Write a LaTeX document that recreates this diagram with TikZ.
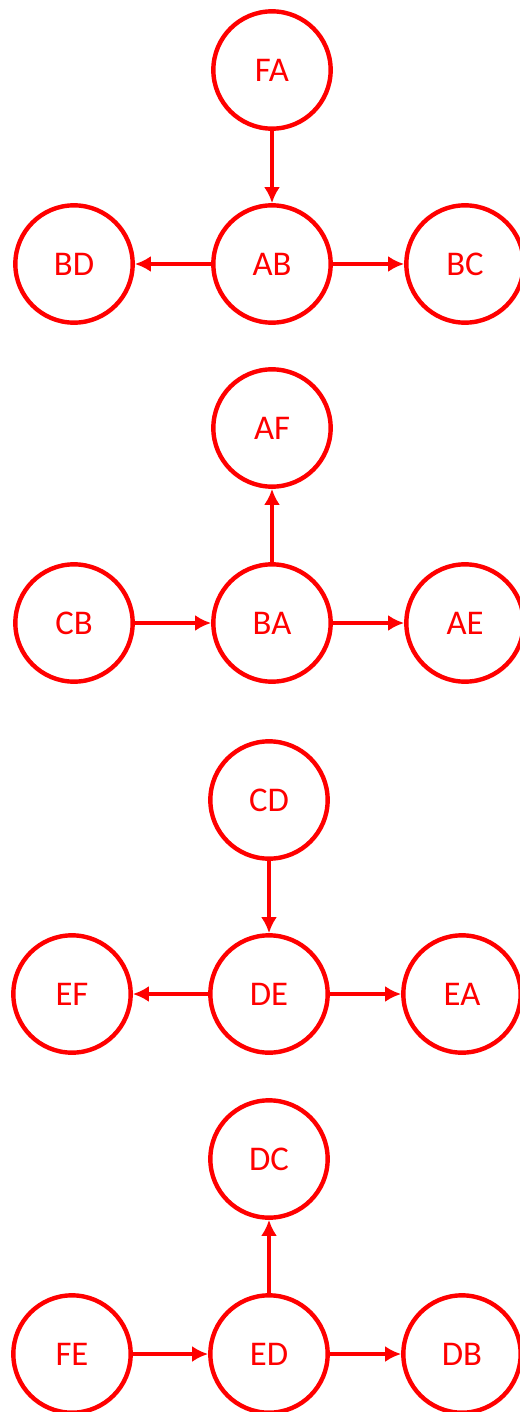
\documentclass[tikz,border=0pt]{standalone}
\usepackage{fontspec}
\setmainfont{Carlito}
\usetikzlibrary{arrows.meta}
\definecolor{pairred}{RGB}{255,0,0}
\begin{document}
\begin{tikzpicture}[x=0.75pt, y=-0.75pt, >={Latex[length=12pt, width=12pt]}]
    \useasboundingbox (0, 0) rectangle (520, 1412);
    \clip (0, 0) rectangle (520, 1412);

    \tikzstyle{pair} = [circle, draw = pairred, line width = 3.3pt, text = pairred, inner sep = 0pt, minimum size = 88pt, font = \fontsize{26}{30}\selectfont]
    \tikzstyle{link} = [->, draw = pairred, line width = 3.3pt]

    % first group
    \node[pair] (fa) at (272, 70) {FA};
    \node[pair] (ab) at (272, 264) {AB};
    \node[pair] (bd) at (74, 264) {BD};
    \node[pair] (bc) at (465, 264) {BC};
    \draw[link] (fa) -- (ab);
    \draw[link] (ab) -- (bd);
    \draw[link] (ab) -- (bc);

    % second group
    \node[pair] (af) at (272, 428) {AF};
    \node[pair] (cb) at (74, 623) {CB};
    \node[pair] (ba) at (272, 623) {BA};
    \node[pair] (ae) at (465, 623) {AE};
    \draw[link] (ba) -- (af);
    \draw[link] (cb) -- (ba);
    \draw[link] (ba) -- (ae);

    % third group
    \node[pair] (cd) at (269, 800) {CD};
    \node[pair] (ef) at (72, 994) {EF};
    \node[pair] (de) at (269, 994) {DE};
    \node[pair] (ea) at (462, 994) {EA};
    \draw[link] (cd) -- (de);
    \draw[link] (de) -- (ef);
    \draw[link] (de) -- (ea);

    % fourth group
    \node[pair] (dc) at (269, 1159) {DC};
    \node[pair] (fe) at (72, 1354) {FE};
    \node[pair] (ed) at (269, 1354) {ED};
    \node[pair] (db) at (462, 1354) {DB};
    \draw[link] (ed) -- (dc);
    \draw[link] (fe) -- (ed);
    \draw[link] (ed) -- (db);
\end{tikzpicture}
\end{document}
